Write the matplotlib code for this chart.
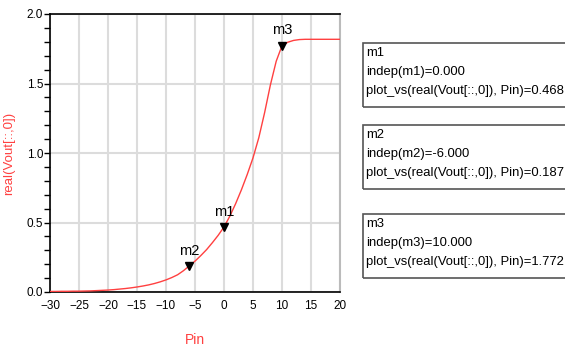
import matplotlib.pyplot as plt
from matplotlib.patches import Rectangle
from matplotlib.ticker import MultipleLocator

pin = list(range(-30, 21))
vout = [0.004, 0.004, 0.005, 0.005, 0.006, 0.006, 0.007, 0.008, 0.010, 0.012,
        0.014, 0.017, 0.021, 0.025, 0.030, 0.036, 0.043, 0.051, 0.061, 0.073,
        0.087, 0.104, 0.124, 0.153, 0.187, 0.222, 0.262, 0.305, 0.355, 0.408,
        0.468, 0.545, 0.635, 0.735, 0.845, 0.965, 1.110, 1.290, 1.490, 1.660,
        1.772, 1.797, 1.810, 1.816, 1.818, 1.818, 1.818, 1.818, 1.818, 1.818,
        1.818]

markers = ["m1", "m2", "m3"]
marker_pin = [0, -6, 10]
marker_val = [0.468, 0.187, 1.772]

plt.rcParams["font.family"] = ["Liberation Sans", "DejaVu Sans"]
red = "#ff4040"

fig = plt.figure(figsize=(5.65, 3.52), dpi=100)
ax = fig.add_axes([50 / 565, 60 / 352, 290 / 565, 278 / 352])

ax.plot(pin, vout, color=red, lw=1.0, zorder=3)

for name, px in zip(markers, marker_pin):
    py = vout[pin.index(px)]
    ax.plot(px, py, marker="v", color="black", markersize=6,
            zorder=4, clip_on=False)
    ax.annotate(name, (px, py), xytext=(0, 6), textcoords="offset points",
                ha="center", va="bottom", fontsize=10.5)

ax.set_xlim(-30, 20)
ax.set_ylim(0, 2.0)
ax.xaxis.set_major_locator(MultipleLocator(5))
ax.yaxis.set_major_locator(MultipleLocator(0.5))
ax.yaxis.set_minor_locator(MultipleLocator(0.1))
ax.grid(True, which="major", color="#dcdcdc", lw=1.5, zorder=0)
ax.set_axisbelow(True)

for s in ["top", "left", "bottom"]:
    ax.spines[s].set_color("black")
    ax.spines[s].set_linewidth(1.2)
ax.spines["right"].set_color("#bbbbbb")
ax.spines["right"].set_linewidth(1.5)

ax.tick_params(axis="y", which="both", direction="out", length=4, width=1,
               labelsize=8.5, pad=1)
ax.tick_params(axis="x", which="both", length=0, labelsize=8.5, pad=6)
ax.set_xticks(range(-30, 21, 5))
ax.set_yticks([0, 0.5, 1.0, 1.5, 2.0])
ax.set_yticklabels(["0.0", "0.5", "1.0", "1.5", "2.0"])

ax.set_xlabel("Pin", color=red, fontsize=10, labelpad=15)
ax.set_ylabel("real(Vout[::,0])", color=red, fontsize=9.5, labelpad=8)

box_tops = [43, 125, 214]
for name, px, val, top in zip(markers, marker_pin, marker_val, box_tops):
    x0, w, h = 363, 260, 64
    fig.add_artist(Rectangle((x0 / 565, 1 - (top + h) / 352), w / 565, h / 352,
                             transform=fig.transFigure, fill=False,
                             edgecolor="#555555", lw=1.2))
    lines = [name,
             "indep(%s)=%.3f" % (name, px),
             "plot_vs(real(Vout[::,0]), Pin)=%.3f" % val]
    for i, line in enumerate(lines):
        fig.text((x0 + 3) / 565, 1 - (top + 10 + i * 19) / 352, line,
                 fontsize=9.4, va="center", ha="left")

fig.savefig("out.png", dpi=100)
